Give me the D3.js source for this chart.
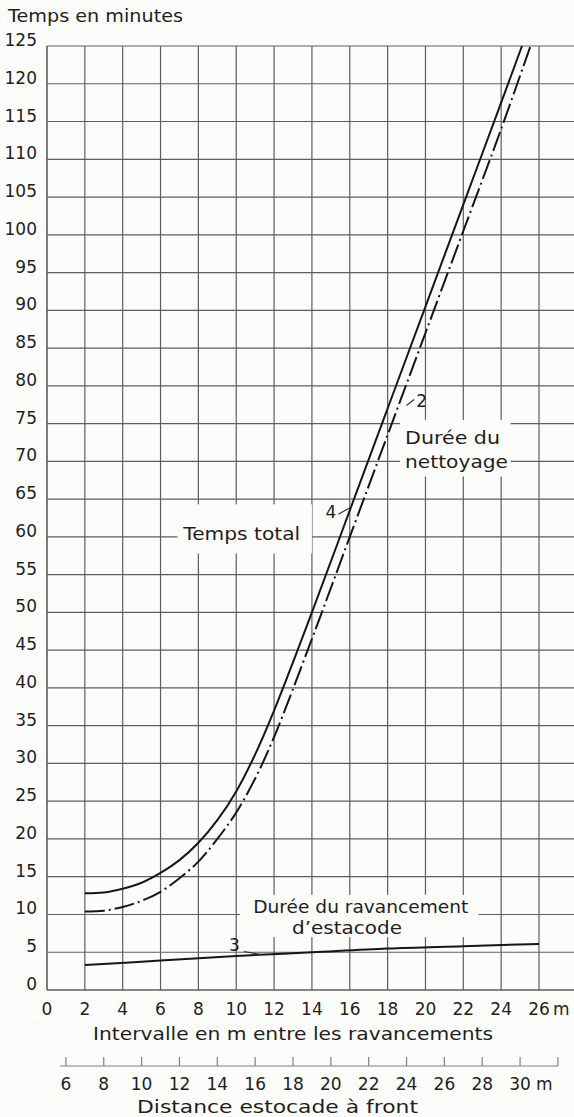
<!DOCTYPE html>
<html>
<head>
<meta charset="utf-8">
<script src="https://cdn.jsdelivr.net/npm/d3@7"></script>
<style>
  body { margin: 0; background: #fcfcfb; }
  svg { display: block; }
  text { font-family: "DejaVu Sans", sans-serif; fill: #1e1e1e; }
</style>
</head>
<body>
<svg id="chart"></svg>
<script>
// readings
const xTicks = [0, 2, 4, 6, 8, 10, 12, 14, 16, 18, 20, 22, 24, 26];
const yTicks = d3.range(0, 126, 5);
const distTicks = [6, 8, 10, 12, 14, 16, 18, 20, 22, 24, 26, 28, 30];

// curve 4 - temps total (solid)
const totalX = [2, 3, 4, 5, 6, 7, 8, 9, 10, 11, 12, 14, 16, 18, 20, 22, 24, 25.1];
const totalY = [12.8, 12.9, 13.4, 14.2, 15.5, 17.2, 19.5, 22.5, 26.3, 31.2, 37, 50, 63.5, 77, 90.5, 104, 117.5, 125];

// curve 2 - durée du nettoyage (dash-dot)
const cleanX = [2, 3, 4, 5, 6, 7, 8, 9, 10, 11, 12, 14, 16, 18, 20, 22, 24, 25.55];
const cleanY = [10.4, 10.5, 11, 11.8, 13, 14.8, 17, 20, 23.5, 28, 33.5, 46.5, 60, 73.5, 87, 100.5, 114, 125];

// curve 3 - durée du ravancement d'estacode
const advX = [2, 6, 10, 14, 18, 22, 26];
const advY = [3.3, 3.9, 4.5, 5.0, 5.5, 5.8, 6.1];

const W = 574, H = 1117;
const svg = d3.select('#chart').attr('width', W).attr('height', H);

const x = d3.scaleLinear().domain([0, 26]).range([47, 539]);
const y = d3.scaleLinear().domain([0, 125]).range([990, 46]);
// distance estacode-front = intervalle + 5
const xd = d3.scaleLinear().domain([5, 31]).range([47, 539]);

const gridColor = '#5e5e5e';

// grid
const grid = svg.append('g');
grid.selectAll('.h').data(yTicks).join('line')
  .attr('x1', x(0)).attr('x2', W)
  .attr('y1', d => y(d)).attr('y2', d => y(d))
  .attr('stroke', gridColor).attr('stroke-width', d => d === 0 ? 1.6 : 1.2);
grid.selectAll('.v').data(xTicks).join('line')
  .attr('x1', d => x(d)).attr('x2', d => x(d))
  .attr('y1', y(125)).attr('y2', y(0))
  .attr('stroke', gridColor).attr('stroke-width', d => d === 0 ? 1.6 : 1.2);

// white boxes behind the labels (grid is cut there)
const boxes = [
  { x0: 6.9, x1: 14.0, y0: 57.8, y1: 64.3 },
  { x0: 18.66, x1: 24.5, y0: 68.0, y1: 75.5 },
  { x0: 10.2, x1: 22.8, y0: 7.0, y1: 12.6 }
];
svg.append('g').selectAll('rect').data(boxes).join('rect')
  .attr('x', d => x(d.x0)).attr('y', d => y(d.y1))
  .attr('width', d => x(d.x1) - x(d.x0)).attr('height', d => y(d.y0) - y(d.y1))
  .attr('fill', '#fcfcfb');

// curves
const line = d3.line().x(d => x(d[0])).y(d => y(d[1])).curve(d3.curveCatmullRom);

svg.append('path')
  .datum(d3.zip(totalX, totalY))
  .attr('d', line).attr('fill', 'none')
  .attr('stroke', '#161616').attr('stroke-width', 2);

svg.append('path')
  .datum(d3.zip(cleanX, cleanY))
  .attr('d', line).attr('fill', 'none')
  .attr('stroke', '#161616').attr('stroke-width', 2)
  .attr('stroke-dasharray', '20,4,2,4');

svg.append('path')
  .datum(d3.zip(advX, advY))
  .attr('d', line).attr('fill', 'none')
  .attr('stroke', '#161616').attr('stroke-width', 2);

// y axis labels
svg.append('g').selectAll('text').data(yTicks).join('text')
  .attr('x', 37).attr('y', d => y(d) - 5)
  .attr('text-anchor', 'end').attr('dominant-baseline', 'middle')
  .style('font-size', '17px')
  .text(d => d);

svg.append('text').attr('x', 8).attr('y', 22)
  .attr('textLength', 175).attr('lengthAdjust', 'spacingAndGlyphs')
  .style('font-size', '17px').text('Temps en minutes');

// x axis labels
svg.append('g').selectAll('text').data(xTicks).join('text')
  .attr('x', d => x(d)).attr('y', 1015)
  .attr('text-anchor', 'middle')
  .style('font-size', '17px')
  .text(d => d);
svg.append('text').attr('x', x(26) + 14).attr('y', 1015)
  .style('font-size', '17px').text('m');

svg.append('text').attr('x', 93).attr('y', 1040)
  .attr('textLength', 400).attr('lengthAdjust', 'spacingAndGlyphs')
  .style('font-size', '17px').text('Intervalle en m entre les ravancements');

// secondary scale: distance estacode - front
const sec = svg.append('g');
sec.append('line')
  .attr('x1', xd(5.7)).attr('x2', xd(32))
  .attr('y1', 1066).attr('y2', 1066)
  .attr('stroke', '#808080').attr('stroke-width', 1.2);
sec.selectAll('.t').data(distTicks.concat([32])).join('line')
  .attr('x1', d => xd(d)).attr('x2', d => xd(d))
  .attr('y1', 1066).attr('y2', 1057)
  .attr('stroke', '#808080').attr('stroke-width', 1.2);
sec.selectAll('text').data(distTicks).join('text')
  .attr('x', d => xd(d)).attr('y', 1090)
  .attr('text-anchor', 'middle')
  .style('font-size', '17px')
  .text(d => d);
sec.append('text').attr('x', xd(30) + 16).attr('y', 1090)
  .style('font-size', '17px').text('m');

svg.append('text').attr('x', 137).attr('y', 1113)
  .attr('textLength', 281).attr('lengthAdjust', 'spacingAndGlyphs')
  .style('font-size', '17px').text('Distance estocade à front');

// curve labels (left edge + measured width in px)
const labels = [
  { t: 'Temps total', x: 7.2, y: 60.3, w: 117 },
  { t: 'Durée du', x: 18.92, y: 73.0, w: 95 },
  { t: 'nettoyage', x: 18.92, y: 69.8, w: 103 },
  { t: 'Durée du ravancement', x: 10.9, y: 10.9, w: 215 },
  { t: 'd\u2019estacode', x: 12.95, y: 8.1, w: 110 }
];
svg.append('g').selectAll('text').data(labels).join('text')
  .attr('x', d => x(d.x)).attr('y', d => y(d.y))
  .attr('dominant-baseline', 'middle')
  .attr('textLength', d => d.w).attr('lengthAdjust', 'spacingAndGlyphs')
  .style('font-size', '17px')
  .text(d => d.t);

const numbers = [
  { t: '2', x: 19.8, y: 77.8 },
  { t: '4', x: 15.0, y: 63.2 },
  { t: '3', x: 9.9, y: 5.8 }
];
svg.append('g').selectAll('text').data(numbers).join('text')
  .attr('x', d => x(d.x)).attr('y', d => y(d.y))
  .attr('text-anchor', 'middle').attr('dominant-baseline', 'middle')
  .style('font-size', '17px')
  .text(d => d.t);

// little leader strokes from the numbers to the curves
const leaders = [
  [[19.0, 77.4], [19.4, 78.2]],
  [[15.4, 63.0], [16.1, 64.0]],
  [[10.4, 5.1], [11.3, 4.7]]
];
svg.append('g').selectAll('line').data(leaders).join('line')
  .attr('x1', d => x(d[0][0])).attr('y1', d => y(d[0][1]))
  .attr('x2', d => x(d[1][0])).attr('y2', d => y(d[1][1]))
  .attr('stroke', '#333').attr('stroke-width', 1.2);
</script>
</body>
</html>
